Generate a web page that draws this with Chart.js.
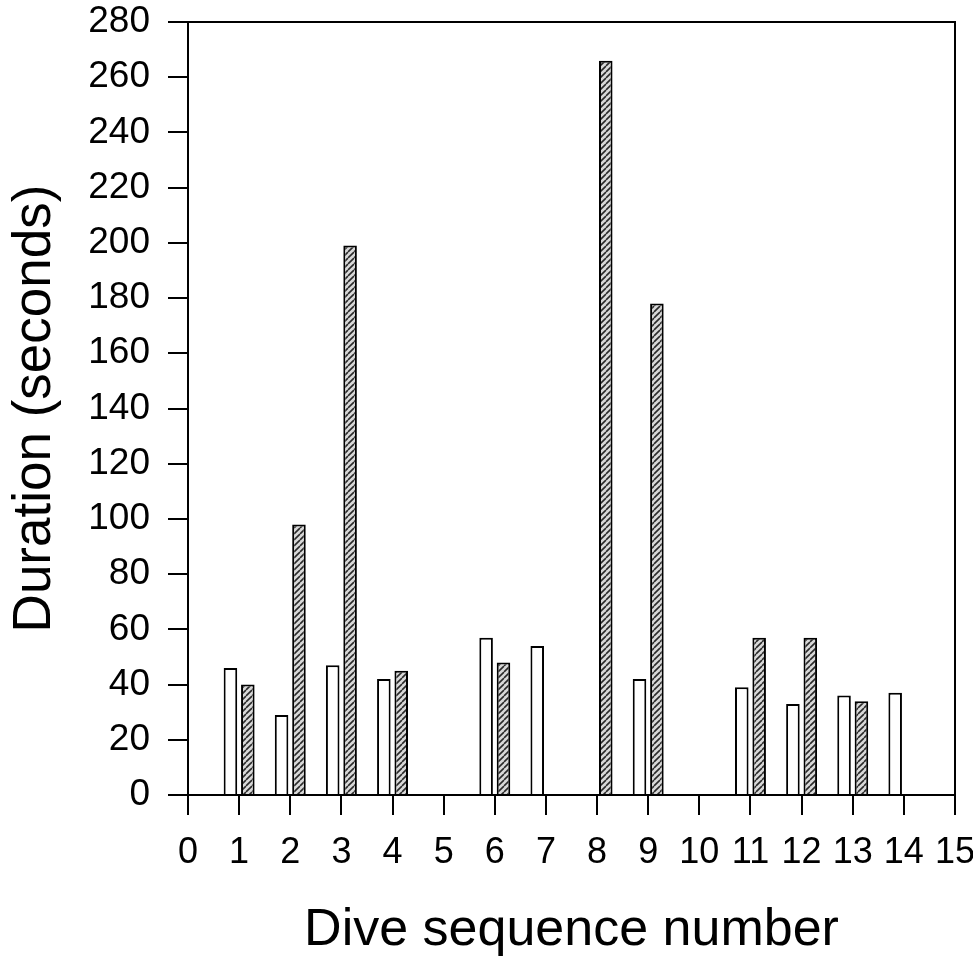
<!DOCTYPE html>
<html>
<head>
<meta charset="utf-8">
<script src="https://cdn.jsdelivr.net/npm/chart.js@4"></script>
<style>
  html, body { margin: 0; padding: 0; background: #fff; }
  #wrap { width: 973px; height: 963px; }
</style>
</head>
<body>
<div id="wrap"><canvas id="dive-chart" width="973" height="963"></canvas></div>
<script>
// dive sequence numbers on the x axis
const diveNumbers = ['0', '1', '2', '3', '4', '5', '6', '7', '8', '9', '10', '11', '12', '13', '14', '15']
// open bars
const openDurations = [null, 46, 29, 47, 42, null, 57, 54, null, 42, null, 39, 33, 36, 37, null]
// hatched bars
const hatchedDurations = [null, 40, 98, 199, 45, null, 48, null, 266, 178, null, 57, 57, 34, null, null]
const yTicks = [0, 20, 40, 60, 80, 100, 120, 140, 160, 180, 200, 220, 240, 260, 280]

const fontFamily = "'Liberation Sans', Arial, Helvetica, sans-serif"

// diagonal stripe fill for the hatched series
const makeHatch = () => {
    const size = 6
    const c = document.createElement('canvas')
    c.width = size
    c.height = size
    const g = c.getContext('2d')
    g.fillStyle = '#d8d8d8'
    g.fillRect(0, 0, size, size)
    g.strokeStyle = '#2a2a2a'
    g.lineWidth = 1.6
    g.beginPath()
    for (let k = -size; k <= size * 2; k += size) {
        g.moveTo(k, size)
        g.lineTo(k + size, 0)
    }
    g.stroke()
    return g.createPattern(c, 'repeat')
}

// top and right edges of the plot box
const frame = {
    id: 'frame',
    afterDraw(chart) {
        const { ctx, chartArea } = chart
        ctx.save()
        ctx.strokeStyle = '#000'
        ctx.lineWidth = 2
        ctx.beginPath()
        ctx.moveTo(chartArea.left, chartArea.top)
        ctx.lineTo(chartArea.right, chartArea.top)
        ctx.lineTo(chartArea.right, chartArea.bottom)
        ctx.stroke()
        ctx.restore()
    }
}

const ctx = document.getElementById('dive-chart').getContext('2d')

new Chart(ctx, {
    type: 'bar',
    data: {
        labels: diveNumbers,
        datasets: [
            {
                label: 'Open',
                data: openDurations,
                backgroundColor: '#ffffff',
                borderColor: '#000',
                borderWidth: 2,
                borderSkipped: 'start'
            },
            {
                label: 'Hatched',
                data: hatchedDurations,
                backgroundColor: makeHatch(),
                borderColor: '#000',
                borderWidth: 2,
                borderSkipped: 'start'
            }
        ]
    },
    options: {
        responsive: false,
        animation: false,
        categoryPercentage: 0.68,
        barPercentage: 0.78,
        layout: {
            padding: { top: 22, right: 18, left: 0, bottom: 0 }
        },
        plugins: {
            legend: { display: false },
            tooltip: { enabled: false }
        },
        scales: {
            x: {
                offset: false,
                grid: {
                    offset: false,
                    drawOnChartArea: false,
                    tickLength: 20,
                    color: '#000',
                    lineWidth: 2
                },
                border: { color: '#000', width: 2 },
                ticks: {
                    color: '#000',
                    padding: 16,
                    maxRotation: 0,
                    autoSkip: false,
                    font: { family: fontFamily, size: 36 }
                },
                title: {
                    display: true,
                    text: 'Dive sequence number',
                    color: '#000',
                    padding: { top: 0, bottom: 6 },
                    font: { family: fontFamily, size: 52, lineHeight: 1 }
                },
                afterFit: scale => {
                    scale.height = 168
                    scale.paddingLeft = 0
                    scale.paddingRight = 0
                }
            },
            y: {
                min: 0,
                max: 280,
                afterBuildTicks: scale => {
                    scale.ticks = yTicks.map(v => ({ value: v }))
                },
                grid: {
                    drawOnChartArea: false,
                    tickLength: 20,
                    color: '#000',
                    lineWidth: 2
                },
                border: { color: '#000', width: 2 },
                ticks: {
                    color: '#000',
                    padding: 18,
                    font: { family: fontFamily, size: 37 }
                },
                title: {
                    display: true,
                    text: 'Duration (seconds)',
                    color: '#000',
                    padding: { top: 9, bottom: 0 },
                    font: { family: fontFamily, size: 53, lineHeight: 1 }
                },
                afterFit: scale => {
                    scale.width = 188
                    scale.paddingTop = 0
                    scale.paddingBottom = 0
                }
            }
        }
    },
    plugins: [frame]
})
</script>
</body>
</html>
